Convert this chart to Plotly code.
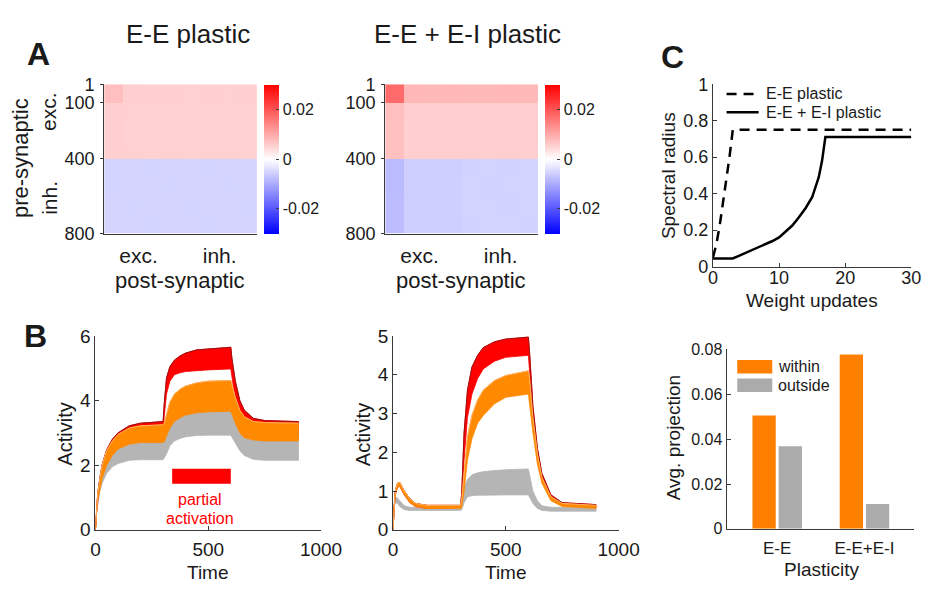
import plotly.graph_objects as go

W, H = 944, 590
def px(x): return x / W
def py(y): return 1 - y / H

FONT = "Liberation Sans, Arial, Helvetica, sans-serif"
TXT = "#1a1a1a"
AXC = "#3a3a3a"

# ---------------- Panel A : weight changes (block averages, 100 neurons per block) -------------
block_centers = [50, 150, 250, 350, 450, 550, 650, 750]
z_ee_plastic = [
    [0.0075, 0.0058, 0.0056, 0.0057, 0.0055, 0.0056, 0.0055, 0.0056],
    [0.0058, 0.0055, 0.0054, 0.0055, 0.0055, 0.0054, 0.0055, 0.0055],
    [0.0056, 0.0054, 0.0055, 0.0054, 0.0055, 0.0055, 0.0054, 0.0055],
    [0.0056, 0.0055, 0.0054, 0.0055, 0.0054, 0.0055, 0.0055, 0.0054],
    [-0.0052, -0.0051, -0.0052, -0.0051, -0.0051, -0.0052, -0.0051, -0.0051],
    [-0.0052, -0.0051, -0.0051, -0.0052, -0.0051, -0.0051, -0.0052, -0.0051],
    [-0.0051, -0.0052, -0.0051, -0.0051, -0.0052, -0.0051, -0.0051, -0.0052],
    [-0.0051, -0.0051, -0.0052, -0.0051, -0.0051, -0.0052, -0.0051, -0.0051],
]
z_eei_plastic = [
    [0.0175, 0.0085, 0.0084, 0.0085, 0.0083, 0.0084, 0.0085, 0.0083],
    [0.0075, 0.0058, 0.0057, 0.0058, 0.0057, 0.0057, 0.0058, 0.0057],
    [0.0074, 0.0057, 0.0058, 0.0057, 0.0058, 0.0057, 0.0057, 0.0058],
    [0.0074, 0.0058, 0.0057, 0.0057, 0.0057, 0.0058, 0.0057, 0.0057],
    [-0.0080, -0.0058, -0.0057, -0.0057, -0.0053, -0.0052, -0.0053, -0.0052],
    [-0.0080, -0.0057, -0.0057, -0.0058, -0.0052, -0.0053, -0.0052, -0.0052],
    [-0.0079, -0.0057, -0.0058, -0.0057, -0.0052, -0.0052, -0.0053, -0.0052],
    [-0.0079, -0.0058, -0.0057, -0.0057, -0.0053, -0.0052, -0.0052, -0.0053],
]
pre_ticks = [1, 100, 400, 800]
post_tick_pos = [180, 605]
post_tick_text = ["exc.", "inh."]
cbar_ticks = [-0.02, 0, 0.02]
cbar_text = ["-0.02", "0", "0.02"]

# ---------------- Panel B : activity envelopes ----------------
time_pts = [0, 5, 10, 20, 30, 50, 75, 100, 150, 200, 300, 305, 315, 330, 350, 375, 400,
            450, 500, 600, 605, 620, 640, 660, 700, 750, 900]
# E-E plastic
ee_gray_lo = [0, 0.5, 0.8, 1.2, 1.45, 1.75, 1.95, 2.05, 2.15, 2.17, 2.17, 2.2, 2.35, 2.6, 2.75, 2.83, 2.88,
              2.92, 2.93, 2.93, 2.9, 2.7, 2.45, 2.3, 2.18, 2.15, 2.15]
ee_gray_hi = [0, 0.6, 0.95, 1.4, 1.75, 2.15, 2.4, 2.6, 2.75, 2.8, 2.8, 2.85, 3.05, 3.3, 3.5, 3.62, 3.7,
              3.78, 3.8, 3.8, 3.75, 3.45, 3.1, 2.95, 2.85, 2.85, 2.85]
ee_orange_lo = [0, 0.55, 0.9, 1.3, 1.6, 2.0, 2.3, 2.5, 2.65, 2.7, 2.7, 2.72, 2.9, 3.15, 3.35, 3.47, 3.55,
                3.62, 3.65, 3.67, 3.6, 3.3, 3.0, 2.85, 2.78, 2.75, 2.75]
ee_orange_hi = [0, 0.7, 1.1, 1.6, 2.0, 2.45, 2.75, 2.95, 3.15, 3.22, 3.25, 3.3, 3.6, 3.95, 4.2, 4.35, 4.45,
                4.55, 4.6, 4.62, 4.5, 4.1, 3.7, 3.5, 3.35, 3.32, 3.3]
ee_red_lo = [0, 0.6, 0.95, 1.4, 1.75, 2.2, 2.5, 2.7, 2.85, 2.9, 2.92, 3.5, 4.2, 4.6, 4.8, 4.86, 4.9,
             4.93, 4.95, 4.98, 4.7, 4.0, 3.5, 3.2, 3.0, 2.95, 2.92]
ee_red_hi = [0, 0.72, 1.12, 1.62, 2.02, 2.48, 2.8, 3.0, 3.22, 3.3, 3.35, 3.9, 4.7, 5.05, 5.25, 5.38, 5.47,
             5.57, 5.6, 5.65, 5.3, 4.6, 4.0, 3.7, 3.45, 3.38, 3.35]
# E-E + E-I plastic
eei_gray_lo = [0, 0.55, 0.7, 0.68, 0.6, 0.52, 0.5, 0.5, 0.5, 0.5, 0.5, 0.52, 0.7, 0.85, 0.88, 0.89, 0.9,
               0.9, 0.9, 0.9, 0.85, 0.68, 0.55, 0.5, 0.48, 0.48, 0.48]
eei_gray_hi = [0, 0.7, 0.85, 0.82, 0.75, 0.62, 0.58, 0.58, 0.58, 0.58, 0.58, 0.7, 1.1, 1.3, 1.42, 1.47, 1.5,
               1.53, 1.55, 1.57, 1.4, 1.0, 0.75, 0.62, 0.58, 0.58, 0.58]
eei_orange_lo = [0, 0.6, 0.9, 1.1, 1.12, 0.9, 0.7, 0.6, 0.55, 0.55, 0.55, 0.6, 1.0, 1.8, 2.35, 2.75, 2.95,
                 3.25, 3.42, 3.5, 3.35, 2.5, 1.7, 1.2, 0.75, 0.6, 0.55]
eei_orange_hi = [0, 0.7, 1.0, 1.2, 1.22, 1.0, 0.8, 0.68, 0.63, 0.63, 0.63, 0.8, 1.5, 2.4, 2.95, 3.35, 3.6,
                 3.85, 3.98, 4.1, 3.9, 2.9, 1.95, 1.35, 0.85, 0.68, 0.63]
eei_red_lo = [0, 0.6, 0.9, 1.1, 1.12, 0.9, 0.7, 0.6, 0.55, 0.55, 0.58, 0.75, 1.8, 2.9, 3.5, 3.9, 4.15,
              4.35, 4.45, 4.5, 4.1, 2.8, 1.8, 1.25, 0.78, 0.62, 0.58]
eei_red_hi = [0, 0.7, 1.0, 1.2, 1.22, 1.0, 0.8, 0.68, 0.63, 0.63, 0.63, 1.0, 2.5, 3.6, 4.2, 4.5, 4.7,
              4.85, 4.92, 4.97, 4.6, 3.2, 2.1, 1.45, 0.9, 0.7, 0.65]
stim_time = [340, 600]
stim_level = [1.66, 1.66]

# ---------------- Panel C : spectral radius ----------------
upd_ee = [0, 0.5, 1, 1.5, 2, 2.5, 3, 30]
rho_ee = [0.05, 0.12, 0.22, 0.34, 0.47, 0.6, 0.75, 0.75]
upd_eei = [0, 1, 2, 3, 4, 5, 6, 7, 8, 9, 10, 11, 12, 13, 14, 15, 16, 16.5, 17, 30]
rho_eei = [0.044, 0.044, 0.044, 0.044, 0.06, 0.076, 0.092, 0.107, 0.125, 0.14, 0.16, 0.19, 0.225,
           0.27, 0.32, 0.38, 0.49, 0.58, 0.71, 0.71]

# ---------------- Panel C : average projection ----------------
plasticity = ["E-E", "E-E+E-I"]
proj_within = [0.0505, 0.0778]
proj_outside = [0.0368, 0.0111]

RED = "#ff0000"
ORANGE = "#ff8a00"
GRAY = "#b5b5b5"

fig = go.Figure()

cs = [[0, "#0000ff"], [0.5, "#ffffff"], [1, "#ff0000"]]
def cbar(x0):
    return dict(x=px(x0), xanchor="left", xpad=0, ypad=0, thickness=15,
                len=155 / H, lenmode="fraction", y=py(154.5), yanchor="middle",
                tickvals=cbar_ticks, ticktext=cbar_text, ticks="inside", ticklen=3,
                tickcolor=AXC, outlinewidth=0,
                tickfont=dict(size=16, family=FONT, color=TXT))

fig.add_trace(go.Heatmap(x=block_centers, y=block_centers, z=z_ee_plastic, colorscale=cs,
                         zmin=-0.03, zmax=0.03, colorbar=cbar(266), xaxis="x", yaxis="y",
                         hoverinfo="skip"))
fig.add_trace(go.Heatmap(x=block_centers, y=block_centers, z=z_eei_plastic, colorscale=cs,
                         zmin=-0.03, zmax=0.03, colorbar=cbar(555), xaxis="x2", yaxis="y2",
                         hoverinfo="skip"))

def band(t, lo, hi, color, xa, ya, edge=None):
    fig.add_trace(go.Scatter(x=t + t[::-1], y=hi + lo[::-1], fill="toself", fillcolor=color,
                             mode="lines", line=dict(width=0.8, color=color), xaxis=xa, yaxis=ya,
                             showlegend=False, hoverinfo="skip"))
    if edge:
        fig.add_trace(go.Scatter(x=t, y=hi, mode="lines", line=dict(width=1, color=edge),
                                 xaxis=xa, yaxis=ya, showlegend=False, hoverinfo="skip"))

band(time_pts, ee_gray_lo, ee_gray_hi, GRAY, "x4", "y4")
band(time_pts, ee_red_lo, ee_red_hi, RED, "x4", "y4", edge="#9a1010")
band(time_pts, ee_orange_lo, ee_orange_hi, ORANGE, "x4", "y4", edge="#ffb060")
fig.add_trace(go.Scatter(x=stim_time, y=stim_level, mode="lines", line=dict(width=15, color=RED),
                         xaxis="x4", yaxis="y4", showlegend=False, hoverinfo="skip"))

band(time_pts, eei_gray_lo, eei_gray_hi, GRAY, "x5", "y5")
band(time_pts, eei_red_lo, eei_red_hi, RED, "x5", "y5", edge="#a01010")
band(time_pts, eei_orange_lo, eei_orange_hi, ORANGE, "x5", "y5", edge="#ffb060")

fig.add_trace(go.Scatter(x=upd_ee, y=rho_ee, mode="lines", name="E-E plastic",
                         line=dict(color="black", width=2.5, dash="10px,7px"),
                         xaxis="x3", yaxis="y3", showlegend=False))
fig.add_trace(go.Scatter(x=upd_eei, y=rho_eei, mode="lines", name="E-E + E-I plastic",
                         line=dict(color="black", width=2.5), xaxis="x3", yaxis="y3",
                         showlegend=False))

fig.add_trace(go.Bar(x=plasticity, y=proj_within, name="within", marker=dict(color="#ff8000",
                     line=dict(width=0)), xaxis="x6", yaxis="y6", showlegend=False))
fig.add_trace(go.Bar(x=plasticity, y=proj_outside, name="outside", marker=dict(color="#ababab",
                     line=dict(width=0)), xaxis="x6", yaxis="y6", showlegend=False))

def ax(domain, **kw):
    d = dict(domain=domain, showline=True, linecolor=AXC, linewidth=1, showgrid=False,
             zeroline=False, ticks="inside", ticklen=4, tickcolor=AXC,
             tickfont=dict(size=18, family=FONT, color=TXT), fixedrange=True)
    d.update(kw)
    return d

hm_y = [py(232), py(77)]
layout = dict(
    width=W, height=H, margin=dict(l=0, r=0, t=0, b=0), paper_bgcolor="white",
    plot_bgcolor="white", font=dict(family=FONT, color=TXT), showlegend=False,
    barmode="group", bargap=0.4, bargroupgap=0.11,
    xaxis=ax([px(102), px(259)], anchor="y", range=[0, 800], tickvals=post_tick_pos,
             ticktext=post_tick_text, ticks="", tickfont=dict(size=21, family=FONT, color=TXT),
             ticklabelstandoff=3),
    yaxis=ax(hm_y, anchor="x", range=[800, 0], tickvals=pre_ticks, ticks="outside", ticklen=3,
             ticklabelstandoff=2),
    xaxis2=ax([px(391), px(548)], anchor="y2", range=[0, 800], tickvals=post_tick_pos,
              ticktext=post_tick_text, ticks="", tickfont=dict(size=21, family=FONT, color=TXT),
              ticklabelstandoff=3),
    yaxis2=ax(hm_y, anchor="x2", range=[800, 0], tickvals=pre_ticks, ticks="outside", ticklen=3,
              ticklabelstandoff=2),
    xaxis3=ax([px(728), px(932)], anchor="y3", range=[0, 30], tickvals=[0, 10, 20, 30],
              ticklabelstandoff=-5),
    yaxis3=ax([py(266), py(77)], anchor="x3", range=[0, 1], tickvals=[0, 0.2, 0.4, 0.6, 0.8, 1],
              ticktext=["0", "0.2", "0.4", "0.6", "0.8", "1"]),
    xaxis4=ax([px(93), px(325)], anchor="y4", range=[0, 1000], tickvals=[0, 500, 1000],
              tickfont=dict(size=19, family=FONT, color=TXT), ticklabelstandoff=2),
    yaxis4=ax([py(539), py(338)], anchor="x4", range=[0, 6], tickvals=[0, 2, 4, 6],
              tickfont=dict(size=19, family=FONT, color=TXT)),
    xaxis5=ax([px(399), px(631)], anchor="y5", range=[0, 1000], tickvals=[0, 500, 1000],
              tickfont=dict(size=19, family=FONT, color=TXT), ticklabelstandoff=2),
    yaxis5=ax([py(539), py(338)], anchor="x5", range=[0, 5], tickvals=[0, 1, 2, 3, 4, 5],
              tickfont=dict(size=19, family=FONT, color=TXT)),
    xaxis6=ax([px(742), px(935)], anchor="y6", range=[-0.58, 1.57], ticks="",
              tickfont=dict(size=17, family=FONT, color=TXT), ticklabelstandoff=4),
    yaxis6=ax([py(538), py(352)], anchor="x6", range=[0, 0.08],
              tickvals=[0, 0.02, 0.04, 0.06, 0.08], ticktext=["0", "0.02", "0.04", "0.06", "0.08"],
              tickfont=dict(size=16, family=FONT, color=TXT)),
)
fig.update_layout(**layout)

ann = []
def text(x, y, s, size, angle=0, color=TXT, bold=False, xanchor="center"):
    ann.append(dict(x=px(x), y=py(y), xref="paper", yref="paper", text=(f"<b>{s}</b>" if bold else s),
                    showarrow=False, textangle=angle, xanchor=xanchor, yanchor="middle",
                    font=dict(size=size, family=FONT, color=color)))

text(188, 25, "E-E plastic", 26)
text(476, 25, "E-E + E-I plastic", 26)
text(34, 46, "A", 32, bold=True)
text(31, 338, "B", 32, bold=True)
text(686, 49, "C", 32, bold=True)
text(16, 154, "pre-synaptic", 22, angle=-90)
text(45, 105, "exc.", 21, angle=-90)
text(45, 195, "inh.", 21, angle=-90)
text(180, 281, "post-synaptic", 22)
text(469, 281, "post-synaptic", 22)
text(683, 172, "Spectral radius", 19, angle=-90)
text(830, 301, "Weight updates", 19)
text(62, 440, "Activity", 20, angle=-90)
text(368, 440, "Activity", 20, angle=-90)
text(209, 583, "Time", 19)
text(515, 583, "Time", 19)
text(201, 508, "partial", 16, color=RED)
text(201, 527, "activation", 16, color=RED)
text(687, 444, "Avg. projection", 19, angle=-90)
text(840, 580, "Plasticity", 19)
text(793, 370, "within", 16, xanchor="left")
text(793, 389, "outside", 16, xanchor="left")
text(780, 87, "E-E plastic", 16, xanchor="left")
text(780, 106, "E-E + E-I plastic", 16, xanchor="left")

shapes = [
    dict(type="rect", xref="paper", yref="paper", x0=px(753), x1=px(789), y0=py(377), y1=py(363),
         fillcolor="#ff8000", line=dict(width=0)),
    dict(type="rect", xref="paper", yref="paper", x0=px(753), x1=px(789), y0=py(396), y1=py(382),
         fillcolor="#ababab", line=dict(width=0)),
    dict(type="line", xref="paper", yref="paper", x0=px(742), x1=px(775), y0=py(87), y1=py(87),
         line=dict(color="black", width=2.5, dash="10px,7px")),
    dict(type="line", xref="paper", yref="paper", x0=px(742), x1=px(775), y0=py(106), y1=py(106),
         line=dict(color="black", width=2.5)),
]
fig.update_layout(annotations=ann, shapes=shapes)

fig.write_html("out.html")
